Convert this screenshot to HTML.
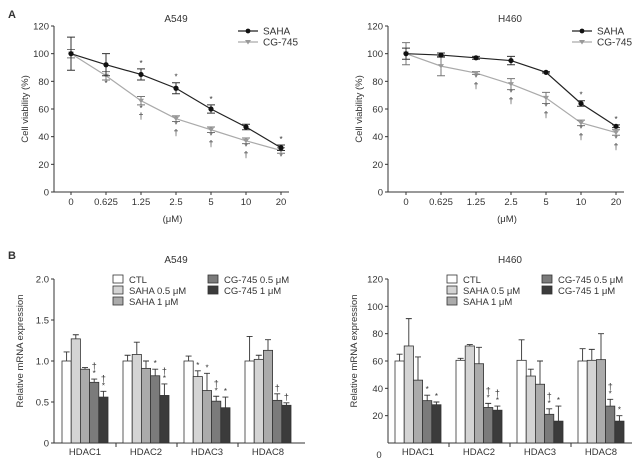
<!DOCTYPE html>
<html><head><meta charset="utf-8"><style>
body{margin:0;background:#fff}
svg{display:block;font-family:"Liberation Sans",sans-serif}
text{fill:#333}
</style></head><body>
<svg id="fig" width="640" height="464" viewBox="0 0 640 464"></svg>
<script>
const doses=["0","0.625","1.25","2.5","5","10","20"];
const a549Saha=[100,92,85,75,60,47,32];
const a549SahaErr=[12,8,4,4,3,2,2];
const a549Cg=[100,84,66,53,45,37,30];
const a549CgErr=[3,3,3,2,2,2,2];
const a549SahaMarks=["","","*","*","*","","*"];
const a549CgMarks=["","*","*†","*†","*†","*†","*"];
const h460Saha=[100,99,97,95,86.5,64,47.5];
const h460SahaErr=[4,1.5,1,3,0.5,2,1];
const h460Cg=[100,91,86,78,68,50,43];
const h460CgErr=[8,7,1,4,4,2,2];
const h460SahaMarks=["","","","","","*","*"];
const h460CgMarks=["","","*†","*†","*†","*†","*†"];
const lineTicks=[0,20,40,60,80,100,120];

const genes=["HDAC1","HDAC2","HDAC3","HDAC8"];
const groups=["CTL","SAHA 0.5 μM","SAHA 1 μM","CG-745 0.5 μM","CG-745 1 μM"];
const a549Bars=[[1.0,1.27,0.90,0.74,0.56],[1.0,1.08,0.91,0.82,0.58],[1.0,0.81,0.64,0.51,0.43],[1.0,1.02,1.13,0.52,0.46]];
const a549BarErr=[[0.11,0.05,0.02,0.04,0.07],[0.07,0.15,0.09,0.08,0.14],[0.06,0.07,0.21,0.06,0.13],[0.3,0.05,0.13,0.08,0.03]];
const a549BarMarks=[["","","","*†","*†"],["","","","*","*†"],["","*","*","*†","*"],["","","","†","†"]];
const h460Bars=[[60,71,46,31,28],[60.5,71,58,26,24],[60.5,49,43,21,16],[60,60.5,61,27,16]];
const h460BarErr=[[5,20,17,4,2],[1.5,1,12,3,3],[15,5,17,4,11],[9,8,19,5,4]];
const h460BarMarks=[["","","","*","*"],["","","","*†","*†"],["","","","*†","*"],["","","","*†","*"]];
const a549BarTicks=["0","0.5","1.0","1.5","2.0"];
const h460BarTicks=[20,40,60,80,100,120];

const svg=document.getElementById('fig');
const NS="http://www.w3.org/2000/svg";
function el(tag,attrs,txt){const e=document.createElementNS(NS,tag);for(const k in attrs)e.setAttribute(k,attrs[k]);if(txt!==undefined)e.textContent=txt;svg.appendChild(e);return e;}

function marks(x,y,str,dir){
  // dir: -1 above, 1 below
  const chars=[...str];
  chars.forEach((c,i)=>{
    const t=el('text',{x:x,y:dir<0?y-(chars.length-1-i)*7-2:y+7+i*8,'font-size':c==='*'?8:9,'text-anchor':'middle'},c);
    
    
  });
}

function lineChart(ax,x0,title,saha,sahaE,cg,cgE,sM,cM){
  const y0=192,ytop=26;
  const Y=v=>y0-(v/120)*(y0-ytop);
  const X=i=>x0+i*35;
  let a=el('line',{x1:ax,y1:ytop,x2:ax,y2:y0,stroke:'#333'});
  a=el('line',{x1:ax,y1:y0,x2:X(6)+8,y2:y0,stroke:'#333'});
  lineTicks.forEach(v=>{el('line',{x1:ax-3,y1:Y(v),x2:ax,y2:Y(v),stroke:'#333'});
    const t=el('text',{x:ax-5,y:Y(v)+3.5,'font-size':9.5,'text-anchor':'end'},v);});
  doses.forEach((d,i)=>{el('line',{x1:X(i),y1:y0,x2:X(i),y2:y0+3,stroke:'#333'});
    const t=el('text',{x:X(i),y:y0+13,'font-size':9.5,'text-anchor':'middle'},d);});
  let t=el('text',{x:(ax+X(6))/2+5,y:y0+30,'font-size':9.5,'text-anchor':'middle'},'(μM)');
  t=el('text',{x:0,y:0,'font-size':9.5,'text-anchor':'middle',transform:`translate(${ax-26},${(y0+ytop)/2}) rotate(-90)`},'Cell viability (%)');
  t=el('text',{x:ax+122,y:22,'font-size':10,'text-anchor':'middle'},title);
  [[cg,cgE,'#aaa'],[saha,sahaE,'#222']].forEach(([vals,err,col],si)=>{
    const p=el('polyline',{points:vals.map((v,i)=>X(i)+','+Y(v)).join(' '),fill:'none',stroke:col,'stroke-width':1.2});
    
    vals.forEach((v,i)=>{
      const e1=el('path',{d:`M${X(i)},${Y(v+err[i])}V${Y(v-err[i])}M${X(i)-4},${Y(v+err[i])}h8M${X(i)-4},${Y(v-err[i])}h8`,stroke:si?'#333':'#777','stroke-width':1,fill:'none'});
      
      let m;
      if(si){m=el('circle',{cx:X(i),cy:Y(v),r:2.6,fill:'#111'});}
      else{m=el('path',{d:`M${X(i)-3},${Y(v)-2}h6l-3,4.5z`,fill:'#999'});}
      
    });
  });
  saha.forEach((v,i)=>{if(sM[i])marks(X(i),Y(v+sahaE[i])-1,sM[i],-1);});
  cg.forEach((v,i)=>{if(cM[i])marks(X(i),Y(v-cgE[i])-1,cM[i],1);});
  const lx=ax+184;
  [['SAHA',31,'#222',1],['CG-745',42,'#aaa',0]].forEach(([lab,ly,col,c])=>{
    el('line',{x1:lx,y1:ly,x2:lx+20,y2:ly,stroke:col,'stroke-width':1.2});
    let m=c?el('circle',{cx:lx+10,cy:ly,r:2.4,fill:'#111'}):el('path',{d:`M${lx+7},${ly-2}h6l-3,4.5z`,fill:'#999'});
    
    const tt=el('text',{x:lx+25,y:ly+3.5,'font-size':10},lab);
  });
}

const barFill=['#fff','#d4d4d4','#ababab','#7b7b7b','#3b3b3b'];
function barChart(ax,g0,title,vals,errs,mk,maxV,tickVals,tickLabs,xEnd,zeroBelow){
  const y0=443,ytop=279;
  const Y=v=>y0-(v/maxV)*(y0-ytop);
  const bw=9.2,gs=61;
  let a=el('line',{x1:ax,y1:ytop,x2:ax,y2:y0,stroke:'#333'});
  a=el('line',{x1:ax,y1:y0,x2:xEnd,y2:y0,stroke:'#333'});
  tickVals.forEach((v,k)=>{el('line',{x1:ax-3,y1:Y(v),x2:ax,y2:Y(v),stroke:'#333'});
    const t=el('text',{x:ax-5,y:Y(v)+3.5,'font-size':9.5,'text-anchor':'end'},tickLabs[k]);});
  if(zeroBelow){const t=el('text',{x:ax-9,y:y0+15,'font-size':9.5,'text-anchor':'middle'},'0');}
  genes.forEach((g,gi)=>{
    const gx=g0+gi*gs;
    if(gi>0)el('line',{x1:gx-7,y1:y0,x2:gx-7,y2:y0+4,stroke:'#333'});
    const t=el('text',{x:gx+23,y:y0+12,'font-size':9.5,'text-anchor':'middle'},g);
    vals[gi].forEach((v,k)=>{
      const x=gx+k*bw;
      const r=el('rect',{x:x,y:Y(v),width:bw,height:y0-Y(v),fill:barFill[k],stroke:'#333','stroke-width':0.8});
      
      const e=errs[gi][k];
      const eb=el('path',{d:`M${x+bw/2},${Y(v)}V${Y(v+e)}M${x+bw/2-3},${Y(v+e)}h6`,stroke:'#333','stroke-width':0.9,fill:'none'});
      
      if(mk[gi][k])marks(x+bw/2,Y(v+e)-1,[...mk[gi][k]].reverse().join(''),-1);
    });
  });
  let t=el('text',{x:0,y:0,'font-size':9.5,'text-anchor':'middle',transform:`translate(${ax-31},${(y0+ytop)/2-10}) rotate(-90)`},'Relative mRNA expression');
  t=el('text',{x:ax+122,y:263,'font-size':10,'text-anchor':'middle'},title);
  const lx=ax+59;
  groups.forEach((gname,k)=>{
    const col=k<3?0:1,row=k<3?k:k-3;
    const x=lx+col*95,y=275+row*11;
    const r=el('rect',{x:x,y:y,width:10,height:8,fill:barFill[k],stroke:'#333','stroke-width':0.8});
    const tt=el('text',{x:x+16,y:y+8,'font-size':9.5},gname);
  });
}

let L=el('text',{x:8,y:18,'font-size':11,'font-weight':'bold'},'A');
L=el('text',{x:8,y:259,'font-size':11,'font-weight':'bold'},'B');
lineChart(54,71,'A549',a549Saha,a549SahaErr,a549Cg,a549CgErr,a549SahaMarks,a549CgMarks);
lineChart(388,406,'H460',h460Saha,h460SahaErr,h460Cg,h460CgErr,h460SahaMarks,h460CgMarks);
barChart(54,62,'A549',a549Bars,a549BarErr,a549BarMarks,2.0,[0,0.5,1.0,1.5,2.0],a549BarTicks,305,false);
barChart(388,395,'H460',h460Bars,h460BarErr,h460BarMarks,120,h460BarTicks,h460BarTicks,632,true);
</script>
</body></html>
